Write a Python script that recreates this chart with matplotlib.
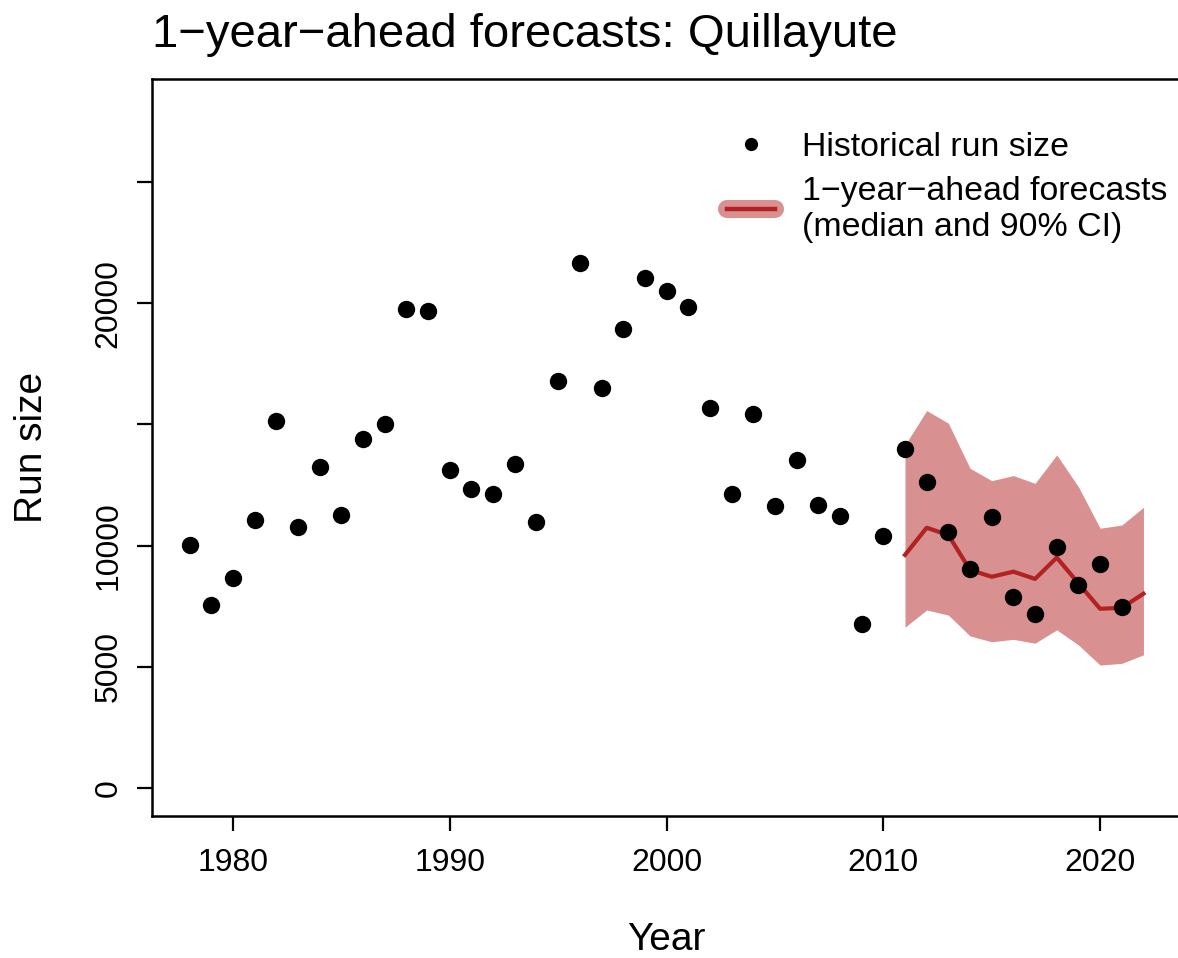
import matplotlib
matplotlib.use("Agg")
import matplotlib.pyplot as plt
from matplotlib.lines import Line2D

plt.rcParams["font.family"] = ["Liberation Sans", "DejaVu Sans"]

# Observed run sizes
years = list(range(1978, 2022))
run_size = [10030, 7560, 8670, 11050, 15150, 10790, 13250, 11270, 14390, 15000,
            19750, 19660, 13110, 12350, 12120, 13380, 10990, 16790, 21640, 16500,
            18920, 21020, 20500, 19820, 15660, 12130, 15440, 11650, 13530, 11690,
            11220, 6770, 10390, 13970, 12640, 10550, 9030, 11180, 7900, 7190,
            9960, 8380, 9260, 7490]

# One-year-ahead forecasts: median and 90% interval
fc_years = list(range(2011, 2023))
fc_median = [9620, 10740, 10440, 9000, 8720, 8930, 8630, 9510, 8450, 7400, 7440, 8020]
fc_lower = [6640, 7350, 7140, 6280, 6040, 6140, 5980, 6530, 5910, 5080, 5150, 5500]
fc_upper = [14150, 15570, 15050, 13190, 12680, 12890, 12570, 13740, 12430, 10720, 10850, 11580]

y_ticks = [0, 5000, 10000, 15000, 20000, 25000]
y_tick_labels = ["0", "5000", "10000", "", "20000", ""]
x_ticks = [1980, 1990, 2000, 2010, 2020]

red = "#b22222"

W, H = 1178, 958
fig = plt.figure(figsize=(W / 100, H / 100), dpi=100)
ax = fig.add_axes([151.5 / W, 1 - 816 / H, (1181.6 - 151.5) / W, (816 - 79) / H])

ax.fill_between(fc_years, fc_lower, fc_upper, color=red, alpha=0.5, linewidth=0, zorder=1)
ax.plot(fc_years, fc_median, color=red, lw=3, zorder=2)
ax.plot(years, run_size, "o", color="black", markersize=12.5, markeredgewidth=0, zorder=3)

ax.set_xlim(1976.24, 2023.76)
ax.set_ylim(-1142, 29237)
ax.set_xticks(x_ticks)
ax.set_yticks(y_ticks)
ax.set_yticklabels(y_tick_labels, rotation=90, va="center")
ax.tick_params(axis="both", length=11, width=1.6, labelsize=23, color="black")
ax.tick_params(axis="x", pad=12)
ax.tick_params(axis="y", pad=9)
for s in ax.spines.values():
    s.set_linewidth(1.8)

fig.text(152 / W, 1 - 47 / H, "1\u2212year\u2212ahead forecasts: Quillayute",
         fontsize=34, ha="left", va="baseline")
fig.text(32 / W, 1 - 447 / H, "Run size", rotation=90, fontsize=28,
         ha="center", va="center")
fig.text(666 / W, 1 - 940 / H, "Year", fontsize=28, ha="center", va="center")

h_pts = Line2D([], [], marker="o", ls="none", color="black", markersize=9.5,
               markeredgewidth=0)
h_band = Line2D([], [], color=red, alpha=0.5, lw=13, solid_capstyle="round")
h_line = Line2D([], [], color=red, lw=3.2)
fig.legend([h_pts, (h_band, h_line)],
           ["Historical run size", "1\u2212year\u2212ahead forecasts\n(median and 90% CI)"],
           loc="upper left", bbox_to_anchor=(727 / W, 1 - 132 / H),
           frameon=False, fontsize=24.4, handlelength=1.42, handletextpad=0.8,
           borderpad=0, borderaxespad=0, labelspacing=0.38)

fig.savefig("out.png", dpi=100)
